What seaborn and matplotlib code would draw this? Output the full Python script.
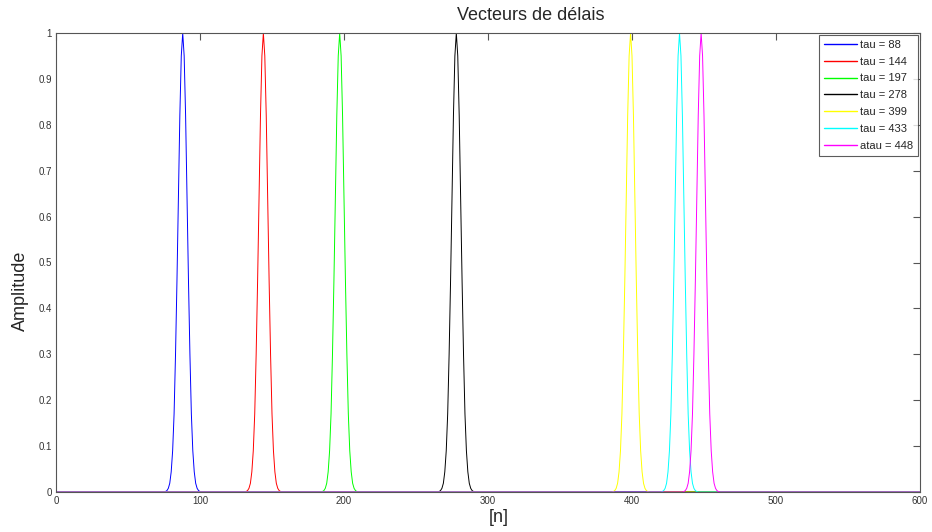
import numpy as np
import pandas as pd
import matplotlib
matplotlib.use("Agg")
import matplotlib.pyplot as plt
import seaborn as sns

# Data
taus = [88, 144, 197, 278, 399, 433, 448]
labels = ["tau = 88", "tau = 144", "tau = 197", "tau = 278", "tau = 399", "tau = 433", "atau = 448"]
colors = ["#0000ff", "#ff0000", "#00ff00", "#000000", "#ffff00", "#00ffff", "#ff00ff"]
# Pulse shape values at offsets 0..13 samples from the peak (symmetric)
pulse_half = [1.0, 0.95, 0.82, 0.64, 0.46, 0.30, 0.17, 0.09, 0.044, 0.019, 0.008, 0.003, 0.001, 0.0]
n_max = 600

sns.set_style("white")
plt.rcParams["font.family"] = ["Liberation Sans", "DejaVu Sans"]

rows = []
n = np.arange(0, n_max + 1)
pulse = np.array(pulse_half[::-1][:-1] + pulse_half)
half = len(pulse_half) - 1
for tau, lab in zip(taus, labels):
    y = np.zeros_like(n, dtype=float)
    idx = np.arange(tau - half, tau + half + 1)
    y[idx] = pulse
    rows.append(pd.DataFrame({"n": n, "amp": y, "serie": lab}))
df = pd.concat(rows, ignore_index=True)

W, H = 932, 532
fig = plt.figure(figsize=(W / 100, H / 100), dpi=100)
ax = fig.add_axes([56 / W, 1 - 492 / H, (920 - 56) / W, (492 - 33) / H])
sns.lineplot(data=df, x="n", y="amp", hue="serie", hue_order=labels,
             palette=dict(zip(labels, colors)), linewidth=0.7, ax=ax, legend=True)

ax.set_xlim(0, 600)
ax.set_ylim(0, 1)
ax.set_xticks(np.arange(0, 601, 100))
ax.set_yticks(np.round(np.arange(0, 1.01, 0.1), 1))
ax.set_yticklabels(["0"] + [f"{v:.1f}" for v in np.arange(0.1, 0.95, 0.1)] + ["1"])
ax.tick_params(direction="in", length=5, width=0.8, color="#555555", labelsize=7,
               top=True, right=True, pad=3, labelcolor="#333333")
for s in ax.spines.values():
    s.set_color("#555555")
    s.set_linewidth(0.8)
    s.set_visible(True)
ax.set_xlabel("")
ax.set_ylabel("")
fig.text(499 / W, 1 - 517 / H, "[n]", fontsize=13, ha="center", va="center")
fig.text(20 / W, 1 - 291 / H, "Amplitude", fontsize=13, ha="center", va="center", rotation=90)
fig.text(531 / W, 1 - 16 / H, "Vecteurs de délais", fontsize=13, ha="center", va="center")

leg = ax.legend(loc="upper right", fontsize=8, frameon=True, fancybox=False,
                borderaxespad=0.15, handlelength=3.0, handletextpad=0.3,
                labelspacing=0.62, borderpad=0.45)
leg.get_frame().set_edgecolor("#333333")
leg.get_frame().set_linewidth(0.8)
for h in leg.get_lines():
    h.set_linewidth(1.0)

fig.savefig("out.png", dpi=100)
